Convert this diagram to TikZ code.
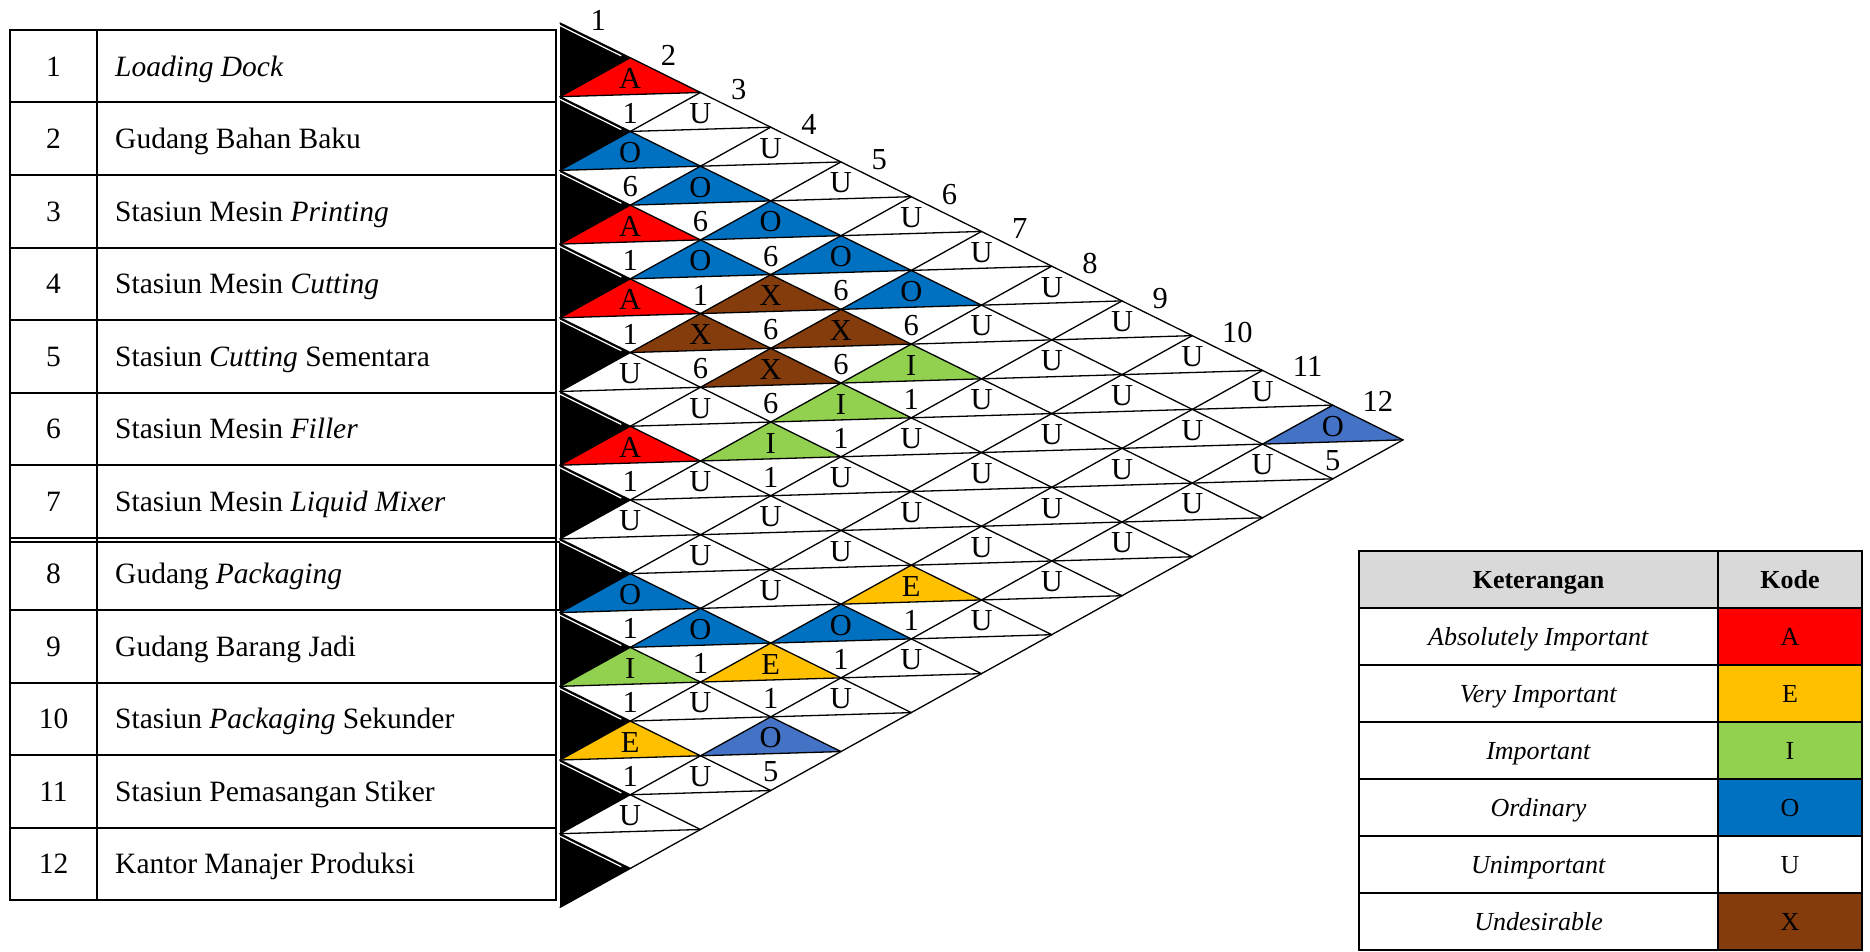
\documentclass[tikz,border=0pt]{standalone}
\usepackage{fontspec}
\setmainfont{Liberation Serif}
\definecolor{cA}{HTML}{FF0000}
\definecolor{cE}{HTML}{FFC000}
\definecolor{cI}{HTML}{92D050}
\definecolor{cO}{HTML}{0070C0}
\definecolor{cOb}{HTML}{4472C4}
\definecolor{cX}{HTML}{843C0C}
\definecolor{hdr}{HTML}{D9D9D9}
\newcommand\arccell[5]{%
  \pgfmathtruncatemacro\cu{#2-#1}%
  \pgfmathtruncatemacro\cv{#1+#2-1}%
  \if\relax\detokenize{#3}\relax\else
    \fill[#3] (\cu-1,\cv) -- (\cu,\cv-1) -- (\cu+1,\cv) -- cycle;
  \fi
  \node[celltxt] (L#1-#2) at (\cu,\cv-0.43) {#4};%
  \if\relax\detokenize{#5}\relax\else
    \node[celltxt] (N#1-#2) at (\cu,\cv+0.5) {#5};%
  \fi
}
\begin{document}
\begin{tikzpicture}[x=1pt,y=-1pt,
  tline/.style={line width=2pt},
  gline/.style={line width=1.3pt, line cap=round},
  rowtxt/.style={font=\fontsize{29.5}{35}\selectfont, inner sep=0pt},
  celltxt/.style={font=\fontsize{30.5}{36}\selectfont, inner sep=0pt},
  lbltxt/.style={font=\fontsize{30.5}{36}\selectfont, inner sep=0pt},
  legtxt/.style={font=\fontsize{26}{31}\selectfont, inner sep=0pt}]
\useasboundingbox (0,0) rectangle (1870,952);
% ---------- department table ----------
\draw[tline] (10,30) rectangle (556,900);
\draw[tline] (97,30) -- (97,900);
\foreach \k in {1,...,11} \draw[tline] (10,{30+\k*72.5}) -- (556,{30+\k*72.5});
\draw[line width=1.3pt] (10,542) rectangle (559.5,610);
\foreach \i/\nm in {1/\textit{Loading Dock},
                    2/Gudang Bahan Baku,
                    3/Stasiun Mesin \textit{Printing},
                    4/Stasiun Mesin \textit{Cutting},
                    5/Stasiun \textit{Cutting} Sementara,
                    6/Stasiun Mesin \textit{Filler},
                    7/Stasiun Mesin \textit{Liquid Mixer},
                    8/Gudang \textit{Packaging},
                    9/Gudang Barang Jadi,
                    10/Stasiun \textit{Packaging} Sekunder,
                    11/Stasiun Pemasangan Stiker,
                    12/Kantor Manajer Produksi} {
  \node[rowtxt, anchor=base] (num\i) at (53.5, {30+(\i-0.5)*72.5+10}) {\i};
  \node[rowtxt, anchor=base west] (dep\i) at (115, {30+(\i-0.5)*72.5+10}) {\nm};
}
% ---------- relationship chart ----------
\begin{scope}[shift={(560,23)}, x={(70.25pt,2.11pt)}, y={(0pt,-36.85pt)}]
  % d = 1
  \arccell{1}{2}{cA}{A}{1}
  \arccell{2}{3}{cO}{O}{6}
  \arccell{3}{4}{cA}{A}{1}
  \arccell{4}{5}{cA}{A}{1}
  \arccell{5}{6}{}{U}{}
  \arccell{6}{7}{cA}{A}{1}
  \arccell{7}{8}{}{U}{}
  \arccell{8}{9}{cO}{O}{1}
  \arccell{9}{10}{cI}{I}{1}
  \arccell{10}{11}{cE}{E}{1}
  \arccell{11}{12}{}{U}{}
  % d = 2
  \arccell{1}{3}{}{U}{}
  \arccell{2}{4}{cO}{O}{6}
  \arccell{3}{5}{cO}{O}{1}
  \arccell{4}{6}{cX}{X}{6}
  \arccell{5}{7}{}{U}{}
  \arccell{6}{8}{}{U}{}
  \arccell{7}{9}{}{U}{}
  \arccell{8}{10}{cO}{O}{1}
  \arccell{9}{11}{}{U}{}
  \arccell{10}{12}{}{U}{}
  % d = 3
  \arccell{1}{4}{}{U}{}
  \arccell{2}{5}{cO}{O}{6}
  \arccell{3}{6}{cX}{X}{6}
  \arccell{4}{7}{cX}{X}{6}
  \arccell{5}{8}{cI}{I}{1}
  \arccell{6}{9}{}{U}{}
  \arccell{7}{10}{}{U}{}
  \arccell{8}{11}{cE}{E}{1}
  \arccell{9}{12}{cOb}{O}{5}
  % d = 4
  \arccell{1}{5}{}{U}{}
  \arccell{2}{6}{cO}{O}{6}
  \arccell{3}{7}{cX}{X}{6}
  \arccell{4}{8}{cI}{I}{1}
  \arccell{5}{9}{}{U}{}
  \arccell{6}{10}{}{U}{}
  \arccell{7}{11}{cO}{O}{1}
  \arccell{8}{12}{}{U}{}
  % d = 5
  \arccell{1}{6}{}{U}{}
  \arccell{2}{7}{cO}{O}{6}
  \arccell{3}{8}{cI}{I}{1}
  \arccell{4}{9}{}{U}{}
  \arccell{5}{10}{}{U}{}
  \arccell{6}{11}{cE}{E}{1}
  \arccell{7}{12}{}{U}{}
  % d = 6 .. 10
  \arccell{1}{7}{}{U}{}
  \arccell{2}{8}{}{U}{}
  \arccell{3}{9}{}{U}{}
  \arccell{4}{10}{}{U}{}
  \arccell{5}{11}{}{U}{}
  \arccell{6}{12}{}{U}{}
  \arccell{1}{8}{}{U}{}
  \arccell{2}{9}{}{U}{}
  \arccell{3}{10}{}{U}{}
  \arccell{4}{11}{}{U}{}
  \arccell{5}{12}{}{U}{}
  \arccell{1}{9}{}{U}{}
  \arccell{2}{10}{}{U}{}
  \arccell{3}{11}{}{U}{}
  \arccell{4}{12}{}{U}{}
  \arccell{1}{10}{}{U}{}
  \arccell{2}{11}{}{U}{}
  \arccell{3}{12}{}{U}{}
  \arccell{1}{11}{}{U}{}
  \arccell{2}{12}{}{U}{}
  % d = 11
  \arccell{1}{12}{cOb}{O}{5}
  % black row triangles
  \foreach \i in {1,...,12} {
    \fill[black] (0,2*\i-2) -- (1,2*\i-1) -- (0,2*\i) -- cycle;
    \draw[white, line width=1.2pt, shorten >=10pt] ([yshift=-2.6pt]0,2*\i-2) -- ([yshift=-2.6pt]1,2*\i-1);
  }
  % grid lines
  \foreach \k in {0,...,11} \draw[gline] (0,2*\k) -- (12-\k,12+\k);
  \foreach \m in {1,...,12} \draw[gline] (0,2*\m) -- (\m,\m);
  \foreach \v in {2,...,22} {
    \pgfmathtruncatemacro\ua{mod(\v,2)}
    \pgfmathtruncatemacro\ub{min(\v,24-\v)}
    \draw[gline] (\ua,\v) -- (\ub,\v);
  }
  % column numbers along the top edge
  \foreach \k in {1,...,9}
    \node[lbltxt, xshift=3pt, yshift=20pt] (top\k) at (\k-0.5,\k-0.5) {\k};
  \foreach \k in {10,11,12}
    \node[lbltxt, xshift=10pt, yshift=21pt] (top\k) at (\k-0.5,\k-0.5) {\k};
\end{scope}
% ---------- legend ----------
\fill[hdr] (1359,551) rectangle (1862,608);
\fill[cA] (1718,608) rectangle (1862,665);
\fill[cE] (1718,665) rectangle (1862,722);
\fill[cI] (1718,722) rectangle (1862,779);
\fill[cO] (1718,779) rectangle (1862,836);
\fill[cX] (1718,893) rectangle (1862,950);
\draw[tline] (1359,551) rectangle (1862,950);
\draw[tline] (1718,551) -- (1718,950);
\foreach \k in {1,...,6} \draw[tline] (1359,{551+\k*57}) -- (1862,{551+\k*57});
\node[legtxt, anchor=base, font=\fontsize{26}{31}\selectfont\bfseries] (hk) at (1538.5,588.5) {Keterangan};
\node[legtxt, anchor=base, font=\fontsize{26}{31}\selectfont\bfseries] (hc) at (1790,588.5) {Kode};
\foreach \k/\d/\c in {1/Absolutely Important/A, 2/Very Important/E, 3/Important/I,
                      4/Ordinary/O, 5/Unimportant/U, 6/Undesirable/X} {
  \node[legtxt, anchor=base] (d\c) at (1538.5, {551+(\k+0.5)*57+9}) {\textit{\d}};
  \node[legtxt, anchor=base] (c\c) at (1790, {551+(\k+0.5)*57+9}) {\c};
}
\end{tikzpicture}
\end{document}
